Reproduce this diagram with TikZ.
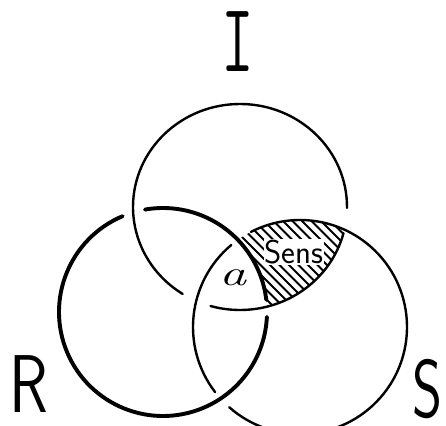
\documentclass[tikz,border=0pt]{standalone}
\usepackage{fontspec}
\usepackage{graphicx}
\begin{document}
\begin{tikzpicture}[x=1pt,y=1pt,
  ring/.style={line width=2.4pt, line cap=round},
  ringR/.style={line width=3.9pt, line cap=round},
  hatch/.style={line width=1.9pt},
  lab/.style={inner sep=0pt, font=\sffamily\fontsize{82}{82}\selectfont}]
\useasboundingbox (0,0) rectangle (446,425);
\clip (0,0) rectangle (446,425);
\coordinate (cI) at (240,218);
\coordinate (cR) at (163,113);
\coordinate (cS) at (300,98);
% hatching of the Sens region
\begin{scope}
  \clip (cI) ellipse [x radius=107, y radius=103];
  \clip (cS) circle [radius=107];
  \foreach \c in {354,363.5,...,560} \draw[hatch] (\c-250,250) -- (\c-50,50);
  \fill[white] (cR) circle [radius=104];
\end{scope}
\node[fill=white, inner sep=1pt, font=\sffamily\fontsize{33}{33}\selectfont] (sens) at (294,173) {Sens};
% ring I
\draw[ring] (cI) ++(-0.5:107 and 103) arc[start angle=-0.5, end angle=237.6, x radius=107, y radius=103];
\draw[ring] (cI) ++(254:107 and 103) arc[start angle=254, end angle=345.3, x radius=107, y radius=103];
% ring S
\draw[ring] (cS) ++(130:107) arc[start angle=130, end angle=217.5, radius=107];
\draw[ring] (cS) ++(228.6:107) arc[start angle=228.6, end angle=477.3, radius=107];
% ring R
\draw[ringR] (cR) ++(6.7:104) arc[start angle=6.7, end angle=100, radius=104];
\draw[ringR] (cR) ++(112.8:104) arc[start angle=112.8, end angle=357.3, radius=104];
% labels
\node[inner sep=0pt, font=\itshape\fontsize{36}{36}\selectfont, xscale=1.5] (a) at (233,147) {a};
\node[inner sep=0pt, font=\ttfamily\fontsize{98}{98}\selectfont, xscale=0.65] (I) at (237.5,383) {I};
\node[lab, xscale=0.78] (R) at (28.5,41) {R};
\node[lab, xscale=0.7] (S) at (427.5,36) {S};
\end{tikzpicture}
\end{document}
